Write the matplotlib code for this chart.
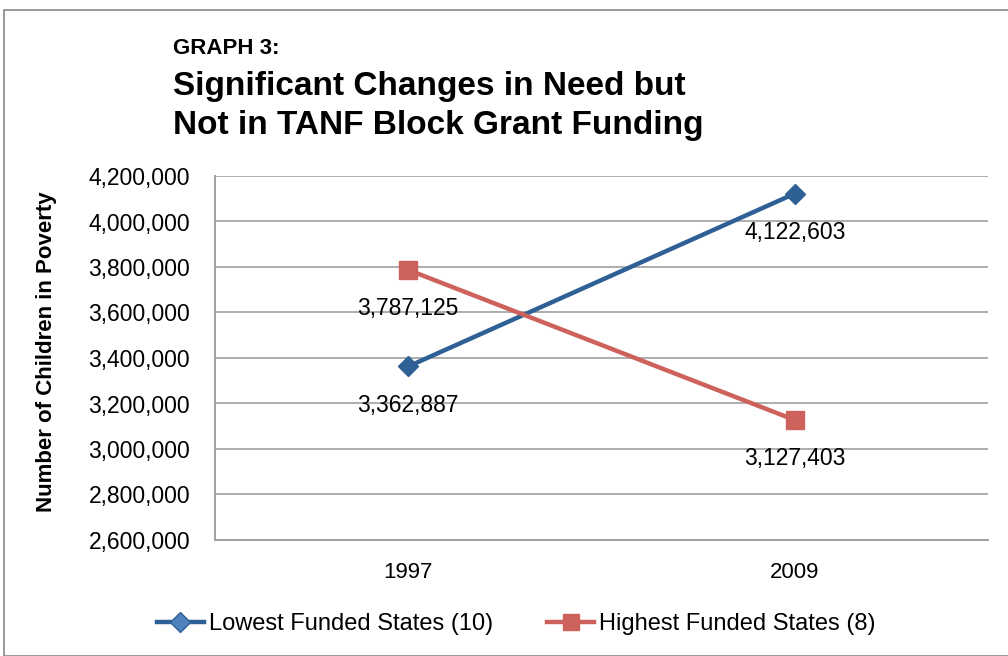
import matplotlib
matplotlib.use("Agg")
import matplotlib.pyplot as plt
from matplotlib.ticker import FuncFormatter, MultipleLocator
from matplotlib.patches import Rectangle

categories = ["1997", "2009"]
lowest = [3362887, 4122603]
highest = [3787125, 3127403]
series_names = ["Lowest Funded States (10)", "Highest Funded States (8)"]

plt.rcParams['font.family'] = ['Liberation Sans', 'DejaVu Sans']

fig = plt.figure(figsize=(10.08, 6.56), dpi=100)
W, H = 1008, 656
ax = fig.add_axes([215 / W, 1 - 540 / H, (988 - 215) / W, (540 - 176) / H])

blue = "#2E5F95"
red = "#CD625C"
x = list(range(len(categories)))
ax.plot(x, lowest, color=blue, lw=3.2, marker="D", ms=10, mfc=blue, mec=blue,
        label=series_names[0], zorder=3)
ax.plot(x, highest, color=red, lw=3.2, marker="s", ms=13, mfc=red, mec=red,
        label=series_names[1], zorder=3)

ax.set_xlim(-0.5, 1.5)
ax.set_ylim(2600000, 4200000)
ax.yaxis.set_major_locator(MultipleLocator(200000))
ax.yaxis.set_major_formatter(FuncFormatter(lambda v, p: f"{int(v):,}"))
ax.set_xticks(x)
ax.set_xticklabels(categories)
ax.tick_params(axis='x', labelsize=16, length=0, pad=16)
ax.tick_params(axis='y', labelsize=16.5, length=0, pad=18)
ax.grid(axis='y', color="#A0A0A0", lw=1.2)
ax.set_axisbelow(True)
for s in ["top", "right"]:
    ax.spines[s].set_visible(False)
for s in ["left", "bottom"]:
    ax.spines[s].set_color("#A0A0A0")
    ax.spines[s].set_linewidth(1.4)

ax.set_ylabel("Number of Children in Poverty", fontsize=16, fontweight="bold")
ax.yaxis.set_label_coords(57 / W, 1 - 352 / H, transform=fig.transFigure)

# data labels
for series in (lowest, highest):
    for i, v in enumerate(series):
        ax.annotate(f"{v:,}", (i, v), xytext=(0, -28), textcoords="offset points",
                    ha="center", va="center", fontsize=16.5)

fig.text(173 / W, 1 - 48 / H, "GRAPH 3:", fontsize=16, fontweight="bold", va="center", ha="left")
fig.text(173 / W, 1 - 106 / H, "Significant Changes in Need but\nNot in TANF Block Grant Funding",
         fontsize=24, fontweight="bold", va="center", ha="left", linespacing=1.3)

leg = fig.legend(loc="center", bbox_to_anchor=(516 / W, 1 - 624 / H), ncol=2, frameon=False,
                 fontsize=17, handlelength=2.0, handletextpad=0.2, columnspacing=2.3)
hs = leg.legend_handles
hs[0].set_markersize(10)
hs[0].set_markerfacecolor("#4F81BD")
hs[1].set_markersize(11)

fig.patches.append(Rectangle((4 / W, 0), 1.2, 1 - 10 / H, transform=fig.transFigure,
                             fill=False, ec="#888888", lw=1.2))

fig.savefig("out.png", dpi=100)
